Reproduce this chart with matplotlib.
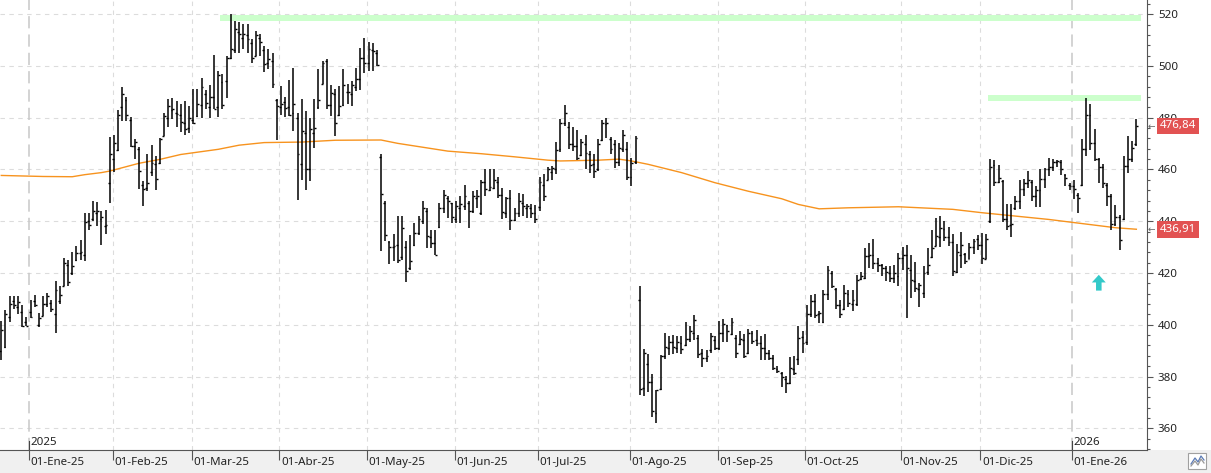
import numpy as np
import matplotlib
matplotlib.use('Agg')
import matplotlib.pyplot as plt
from matplotlib import transforms
from matplotlib.patches import Rectangle
from matplotlib.lines import Line2D
from matplotlib.ticker import MultipleLocator

plt.rcParams['font.family'] = ['Noto Sans', 'DejaVu Sans']

# Daily OHLC bars, 19-Dec-2024 .. late Jan-2026
highs = [
    401.3, 405.8, 411.0, 411.2, 411.0, 407.7, 403.0, 409.7, 411.6, 404.5,
    411.0, 412.3, 409.7, 416.8, 414.8, 425.7, 425.0, 428.0, 430.6, 432.9,
    443.0, 443.2, 447.9, 447.4, 443.9, 444.5, 472.5, 473.2, 482.8, 492.0,
    488.1, 480.4, 471.9, 468.6, 455.5, 465.8, 469.5, 465.4, 472.3, 481.7,
    487.4, 487.7, 486.5, 485.2, 486.3, 484.5, 491.0, 491.0, 495.5, 490.7,
    492.5, 504.1, 498.1, 496.8, 503.9, 520.0, 517.4, 517.0, 516.1, 516.1,
    510.3, 513.5, 512.3, 507.7, 506.7, 504.9, 487.4, 492.3, 488.1, 494.6,
    499.4, 481.9, 487.1, 482.6, 480.0, 487.1, 499.0, 501.9, 502.8, 492.5,
    491.0, 492.3, 498.7, 492.9, 494.2, 499.4, 507.1, 511.0, 509.3, 509.0,
    506.2, 465.8, 447.7, 432.3, 435.2, 441.9, 442.2, 432.3, 434.5, 439.4,
    441.9, 447.7, 445.2, 436.8, 436.5, 447.1, 451.9, 449.7, 447.1, 447.7,
    449.9, 454.2, 447.7, 451.6, 452.0, 455.9, 460.3, 460.3, 460.3, 457.2,
    452.9, 449.4, 452.0, 445.2, 451.0, 450.7, 446.5, 446.8, 446.1, 457.2,
    458.1, 461.0, 461.5, 470.6, 479.6, 484.8, 478.3, 476.5, 475.2, 471.6,
    473.5, 467.1, 465.8, 471.6, 479.1, 480.0, 472.6, 471.4, 470.3, 475.1,
    470.6, 464.5, 472.9, 415.1, 390.6, 388.8, 381.0, 374.6, 388.4, 397.0,
    395.7, 396.1, 395.7, 395.7, 400.9, 399.4, 403.6, 396.1, 390.6, 390.3,
    397.0, 395.7, 401.5, 402.2, 400.0, 402.6, 396.1, 397.4, 396.5, 398.3,
    397.4, 398.0, 395.5, 396.5, 390.3, 388.4, 384.1, 381.9, 380.3, 387.5,
    388.0, 399.4, 397.4, 407.7, 411.6, 412.0, 405.2, 413.5, 422.8, 420.6,
    414.2, 409.7, 415.5, 413.5, 413.5, 419.4, 420.3, 429.7, 431.6, 433.2,
    425.8, 423.6, 422.6, 422.8, 423.2, 427.7, 430.1, 431.0, 427.1, 424.1,
    416.1, 422.6, 429.7, 436.8, 441.3, 442.2, 440.0, 437.8, 435.2, 431.4,
    435.7, 427.7, 431.6, 433.2, 434.8, 435.5, 435.2, 463.9, 463.6, 461.9,
    456.1, 446.5, 446.5, 449.9, 456.1, 456.4, 459.4, 455.9, 453.8, 460.3,
    460.6, 464.5, 463.9, 463.6, 463.6, 458.3, 454.8, 456.1, 451.0, 471.6,
    487.7, 485.5, 475.5, 464.5, 462.3, 454.8, 450.7, 446.1, 442.6, 465.4,
    472.9, 471.0, 479.4,
]
lows = [
    386.5, 391.0, 401.0, 406.0, 404.3, 399.0, 399.4, 402.6, 406.7, 399.0,
    403.2, 407.0, 404.9, 397.0, 408.0, 414.8, 415.0, 419.4, 424.5, 424.9,
    424.5, 436.5, 440.0, 438.3, 430.7, 435.1, 447.1, 459.1, 467.1, 478.7,
    478.7, 468.8, 463.9, 452.3, 445.8, 451.6, 457.4, 451.9, 462.2, 472.9,
    476.5, 479.4, 476.5, 474.5, 473.5, 474.2, 477.7, 480.3, 480.0, 483.2,
    480.0, 483.2, 480.4, 483.5, 487.7, 502.6, 505.2, 505.2, 506.7, 505.2,
    501.3, 503.9, 503.9, 497.7, 499.0, 491.6, 471.4, 480.9, 480.4, 480.6,
    474.8, 448.4, 455.9, 452.0, 455.5, 468.4, 483.2, 492.9, 483.2, 480.6,
    472.9, 480.6, 484.5, 485.2, 484.5, 490.3, 490.7, 497.4, 498.1, 498.1,
    500.0, 428.4, 432.3, 423.6, 424.5, 423.9, 424.9, 416.4, 421.3, 430.3,
    434.8, 439.1, 429.7, 429.5, 427.1, 437.4, 443.0, 441.3, 439.4, 439.4,
    439.4, 444.5, 437.4, 443.2, 445.2, 442.6, 449.9, 451.6, 452.3, 449.0,
    440.9, 441.3, 436.8, 440.0, 441.7, 442.2, 441.3, 441.3, 439.4, 443.9,
    447.7, 455.9, 456.1, 458.1, 466.7, 476.8, 468.0, 467.1, 463.6, 465.2,
    460.0, 458.7, 456.8, 459.4, 471.0, 472.3, 465.8, 460.6, 461.3, 466.7,
    455.9, 453.5, 462.3, 372.9, 372.3, 374.2, 364.5, 362.2, 374.6, 386.7,
    388.4, 388.8, 389.0, 388.8, 391.6, 393.5, 394.2, 387.1, 383.6, 385.8,
    389.0, 390.3, 390.3, 393.5, 393.2, 396.1, 387.1, 392.3, 387.1, 388.8,
    392.6, 391.6, 386.2, 386.5, 386.2, 382.6, 381.5, 375.9, 373.8, 377.2,
    380.6, 384.5, 389.0, 392.3, 403.0, 402.6, 400.6, 400.6, 409.7, 414.2,
    406.1, 402.6, 405.8, 406.8, 405.2, 407.1, 417.4, 417.7, 421.9, 421.5,
    420.3, 418.7, 416.8, 416.4, 416.1, 414.8, 421.3, 402.8, 410.3, 412.5,
    406.8, 410.3, 419.4, 425.8, 430.3, 430.1, 432.3, 430.3, 418.7, 420.0,
    421.9, 423.6, 425.4, 427.5, 428.8, 423.6, 425.4, 439.4, 453.5, 454.6,
    439.6, 436.5, 433.9, 444.3, 444.8, 449.7, 452.9, 447.7, 445.5, 445.5,
    452.9, 457.4, 459.4, 461.0, 457.7, 453.5, 452.0, 448.6, 443.2, 453.5,
    465.4, 467.7, 463.2, 454.6, 452.9, 445.8, 436.8, 438.1, 428.8, 440.4,
    458.5, 462.8, 469.0,
]
opens = [
    390.0, 391.5, 403.0, 409.0, 407.0, 405.0, 401.0, 405.0, 409.0, 400.0,
    403.5, 408.0, 408.5, 404.0, 409.0, 414.9, 423.0, 420.0, 425.0, 427.7,
    427.0, 440.0, 441.0, 443.0, 441.0, 438.0, 454.8, 464.1, 467.7, 484.0,
    487.0, 479.0, 469.0, 468.0, 454.0, 453.0, 459.0, 462.0, 462.5, 473.0,
    480.0, 483.0, 482.0, 481.0, 478.0, 476.0, 479.0, 480.5, 485.0, 489.0,
    484.0, 488.0, 484.0, 494.0, 494.2, 503.0, 506.0, 513.0, 511.0, 512.0,
    509.0, 504.0, 511.0, 506.0, 501.0, 502.0, 487.0, 484.0, 486.0, 484.0,
    482.0, 480.0, 462.0, 474.0, 460.0, 474.0, 484.0, 493.0, 501.9, 485.0,
    489.0, 481.0, 485.0, 490.0, 489.0, 492.0, 494.8, 503.0, 501.0, 506.0,
    505.0, 465.0, 447.0, 432.0, 430.0, 431.0, 426.0, 430.0, 422.0, 431.0,
    435.5, 440.0, 444.0, 434.0, 431.5, 437.6, 445.0, 449.0, 447.0, 441.0,
    445.0, 446.0, 447.0, 444.0, 449.0, 443.0, 455.0, 452.0, 453.0, 455.0,
    450.0, 443.0, 449.0, 440.5, 443.0, 447.0, 445.0, 445.0, 443.0, 445.5,
    454.0, 456.0, 459.0, 460.0, 468.0, 478.1, 476.5, 470.0, 469.0, 465.5,
    470.0, 466.0, 462.0, 460.0, 471.5, 477.4, 471.6, 469.7, 463.0, 468.0,
    468.0, 457.0, 463.0, 409.4, 375.5, 384.9, 378.0, 366.0, 375.0, 388.0,
    391.0, 393.5, 391.0, 393.0, 392.0, 394.5, 397.0, 395.0, 389.0, 387.0,
    390.3, 394.0, 391.0, 397.0, 400.0, 396.5, 394.8, 392.5, 394.0, 389.0,
    397.0, 394.0, 393.0, 391.0, 389.0, 387.0, 383.0, 381.5, 379.0, 377.5,
    383.0, 386.7, 395.2, 393.2, 404.0, 409.0, 404.0, 401.0, 412.0, 420.0,
    414.0, 407.5, 406.0, 412.0, 408.0, 408.0, 417.6, 418.0, 426.5, 427.0,
    424.0, 423.0, 422.0, 420.0, 418.0, 419.0, 425.8, 427.0, 421.0, 417.0,
    414.0, 412.3, 420.5, 426.0, 430.5, 434.0, 437.0, 434.0, 432.0, 420.3,
    427.1, 427.5, 425.5, 430.0, 433.2, 431.0, 425.5, 440.0, 461.9, 455.0,
    455.5, 441.0, 438.5, 445.0, 448.0, 452.3, 454.6, 455.0, 449.9, 452.0,
    456.4, 460.0, 461.0, 462.8, 463.0, 458.0, 454.0, 453.5, 450.0, 454.0,
    468.0, 480.9, 470.3, 464.0, 461.0, 454.0, 449.9, 439.1, 441.7, 441.0,
    461.3, 463.9, 470.0,
]
closes = [
    398.0, 404.0, 408.0, 407.5, 408.8, 399.5, 399.6, 403.0, 407.6, 402.6,
    408.0, 411.0, 406.2, 413.5, 411.6, 424.0, 416.5, 422.6, 427.7, 428.0,
    439.7, 438.7, 443.9, 443.9, 441.7, 438.7, 466.0, 470.3, 481.0, 489.0,
    481.2, 469.0, 470.6, 459.4, 452.3, 454.8, 462.6, 456.4, 471.9, 480.6,
    484.5, 483.2, 481.3, 478.5, 475.5, 479.9, 478.0, 485.4, 492.0, 485.8,
    488.1, 483.5, 496.4, 484.8, 503.2, 506.5, 514.2, 512.3, 512.3, 510.3,
    503.2, 511.9, 509.3, 500.6, 502.6, 492.9, 484.5, 485.5, 483.6, 480.9,
    485.2, 466.1, 474.8, 460.3, 475.7, 476.1, 486.8, 501.0, 485.0, 489.4,
    477.8, 484.5, 492.5, 490.0, 492.5, 494.8, 503.0, 501.3, 506.5, 505.8,
    500.3, 450.6, 434.6, 430.1, 430.3, 424.9, 437.4, 420.6, 424.8, 435.5,
    440.9, 445.2, 434.2, 431.5, 427.1, 445.0, 450.3, 447.7, 441.7, 445.8,
    446.5, 449.9, 443.9, 449.7, 449.7, 455.0, 452.5, 453.2, 455.9, 450.3,
    443.5, 449.0, 440.4, 443.2, 447.7, 445.8, 445.8, 443.0, 440.9, 455.0,
    449.9, 460.0, 460.6, 467.7, 478.0, 482.0, 470.0, 469.0, 464.5, 470.6,
    466.2, 461.9, 459.4, 470.0, 477.8, 478.0, 468.0, 463.0, 468.4, 473.2,
    457.2, 462.6, 472.3, 375.1, 389.0, 378.0, 366.5, 374.6, 388.0, 391.4,
    393.5, 391.4, 393.2, 390.6, 394.5, 397.4, 401.7, 388.8, 387.1, 388.0,
    395.5, 391.0, 397.0, 400.4, 397.4, 401.0, 389.0, 394.5, 388.0, 397.0,
    393.9, 392.9, 391.0, 389.0, 387.1, 383.2, 382.3, 379.7, 377.4, 383.2,
    381.3, 395.0, 393.0, 404.3, 409.0, 403.9, 404.5, 412.0, 421.3, 415.0,
    407.7, 404.3, 412.3, 408.4, 409.7, 417.2, 418.7, 426.5, 427.0, 424.0,
    423.2, 421.9, 420.3, 418.1, 420.0, 425.8, 427.1, 421.9, 417.2, 414.2,
    415.5, 420.0, 423.2, 429.7, 434.2, 437.4, 434.0, 432.0, 420.6, 428.0,
    431.0, 424.5, 430.1, 432.3, 431.0, 425.8, 433.2, 461.0, 455.0, 456.8,
    441.0, 438.1, 439.1, 448.0, 452.3, 454.6, 455.9, 449.9, 452.0, 456.4,
    460.0, 461.0, 462.8, 463.2, 460.3, 456.8, 453.5, 452.3, 449.0, 468.0,
    480.9, 470.3, 464.1, 461.0, 454.8, 449.9, 439.1, 441.7, 432.9, 461.3,
    463.9, 468.4, 476.84,
]

# sessions per month (first entry = the end of Dec-2024 shown on the left)
bars_per_month = [7, 20, 19, 21, 21, 21, 20, 22, 21, 21, 23, 19, 22, 16]
month_labels = ['01-Ene-25', '01-Feb-25', '01-Mar-25', '01-Abr-25', '01-May-25',
                '01-Jun-25', '01-Jul-25', '01-Ago-25', '01-Sep-25', '01-Oct-25',
                '01-Nov-25', '01-Dic-25', '01-Ene-26']

# moving average (orange), sampled along the curve: bar number -> value
ma_bar = [0, 10, 17, 20, 24, 26, 33, 38, 43, 52, 57, 63, 72, 80, 91, 95, 99,
          107, 115, 123, 131, 134, 143, 148, 151, 155, 163, 171, 179, 187, 191,
          196, 203, 215, 228, 235, 243, 251, 259, 267, 272]
ma_value = [457.7, 457.3, 457.2, 458.0, 458.8, 459.4, 462.4, 463.9, 465.8, 467.8,
            469.4, 470.4, 470.6, 471.3, 471.4, 470.1, 469.1, 467.1, 466.1, 464.9,
            463.6, 463.3, 463.6, 464.0, 463.3, 462.0, 458.8, 454.9, 451.6, 448.7,
            446.5, 444.8, 445.2, 445.6, 444.6, 443.3, 442.0, 440.7, 439.1, 437.5,
            436.91]

# green resistance levels and the bar they start from
resist_levels = [518.7, 487.8]
resist_from = [53, 237]

# cyan buy arrow
signal_bar = 263
signal_low, signal_high = 413.2, 419.3

# ---------------------------------------------------------------------------
W, H = 1211, 473
fig = plt.figure(figsize=(W / 100, H / 100), dpi=100)
fig.patch.set_facecolor('white')
ax = fig.add_axes([0, 1 - 450 / H, 1147 / W, 450 / H])

n = len(closes)
x = np.arange(n)

# grey strip under the date axis
fig.add_artist(Rectangle((0, 0), 1, 1 - 450 / H, transform=fig.transFigure,
                         facecolor='#f0f0f0', edgecolor='none', zorder=-1))

# horizontal grid
for v in range(360, 521, 20):
    ax.axhline(v, color='#dcdcdc', lw=0.8, ls=(0, (4, 4)), zorder=0.5)

# month grid lines, year lines drawn with longer dashes
starts = np.cumsum(bars_per_month)[:-1]
grid_pos = starts - 0.35
for pos, lab in zip(grid_pos, month_labels):
    if 'Ene' in lab:
        ax.axvline(pos, color='#c8c8c8', lw=1.1, ls=(0, (8, 4)), zorder=0.5)
    else:
        ax.axvline(pos, color='#dcdcdc', lw=0.8, ls=(0, (4, 4)), zorder=0.5)

# resistance bands
for lvl, start in zip(resist_levels, resist_from):
    ax.hlines(lvl, start - 0.5, n + 0.1, color='#ccffcc', lw=4.3, zorder=1,
              capstyle='butt')

# moving average
ax.plot(ma_bar, ma_value, color='#f7931e', lw=1.0, zorder=2)

# OHLC bars
ax.vlines(x, lows, highs, color='black', lw=1.1, zorder=3)
ax.hlines(opens, x - 0.45, x, color='black', lw=1.0, zorder=3)
ax.hlines(closes, x, x + 0.45, color='black', lw=1.0, zorder=3)

# buy arrow
ax.annotate('', xy=(signal_bar, signal_high), xytext=(signal_bar, signal_low),
            arrowprops=dict(arrowstyle='simple,head_length=0.55,head_width=1.0,tail_width=0.4',
                            color='#33c9c9', lw=0, shrinkA=0, shrinkB=0))

ax.set_xlim(-0.31, 274.55)
ax.set_ylim(351.6, 525.5)

# axes styling
for side in ['left', 'top']:
    ax.spines[side].set_visible(False)
for side in ['right', 'bottom']:
    ax.spines[side].set_color('#555555')
    ax.spines[side].set_linewidth(0.8)

ax.yaxis.tick_right()
ax.set_yticks(range(360, 521, 20))
ax.yaxis.set_minor_locator(MultipleLocator(4))
ax.tick_params(axis='y', which='major', length=4.3, width=0.8, color='#555555',
               pad=3.6, labelsize=8.3, labelcolor='#222222')
ax.tick_params(axis='y', which='minor', length=2.4, width=0.8, color='#555555')

ax.set_xticks(grid_pos)
ax.set_xticklabels([])
ax.tick_params(axis='x', which='major', length=7.2, width=0.8, color='#555555')

# month labels, left aligned after each tick
trans_x = transforms.blended_transform_factory(ax.transData, ax.transAxes)
offset = transforms.ScaledTranslation(1.5 / 100, 0, fig.dpi_scale_trans)
for pos, lab in zip(grid_pos, month_labels):
    ax.text(pos, -12 / 450, lab, transform=trans_x + offset, ha='left',
            va='center', fontsize=8.3, color='#222222', clip_on=False)
    if 'Ene' in lab:
        ax.plot([pos, pos], [0, 9.5 / 450], transform=trans_x, color='#444444',
                lw=0.8, clip_on=False)
        ax.text(pos, 8 / 450, '20' + lab[-2:], transform=trans_x + offset,
                ha='left', va='center', fontsize=8.3, color='#222222')

# last values in red boxes on the price axis (they cover the 480/440 labels,
# as in the original)
trans_y = transforms.blended_transform_factory(ax.transAxes, ax.transData)
for val in (closes[-1], ma_value[-1]):
    ax.text(1160 / 1147, val, f'{val:.2f}'.replace('.', ','), transform=trans_y,
            ha='left', va='center', fontsize=8.3, color='white', zorder=5,
            bbox=dict(boxstyle='square,pad=0.25', fc='#e25252', ec='none'),
            clip_on=False)
    ax.text(1148 / 1147, val, '←', transform=trans_y, ha='left', va='center',
            fontsize=6.5, color='#666666', clip_on=False)

# small chart-type button in the corner
fig.add_artist(Rectangle((1188 / W, 1 - 468.7 / H), 17.7 / W, 16 / H,
                         transform=fig.transFigure, facecolor='white',
                         edgecolor='#a0a0a0', lw=0.8))
zx = np.array([1191, 1195, 1198, 1201, 1204]) / W
fig.add_artist(Line2D(zx, 1 - np.array([464, 458, 462, 456, 460]) / H,
                      transform=fig.transFigure, color='#5a7ab5', lw=0.9))
fig.add_artist(Line2D(zx, 1 - np.array([466, 461, 465, 459, 463]) / H,
                      transform=fig.transFigure, color='#999999', lw=0.9))

fig.savefig('out.png', dpi=100)
